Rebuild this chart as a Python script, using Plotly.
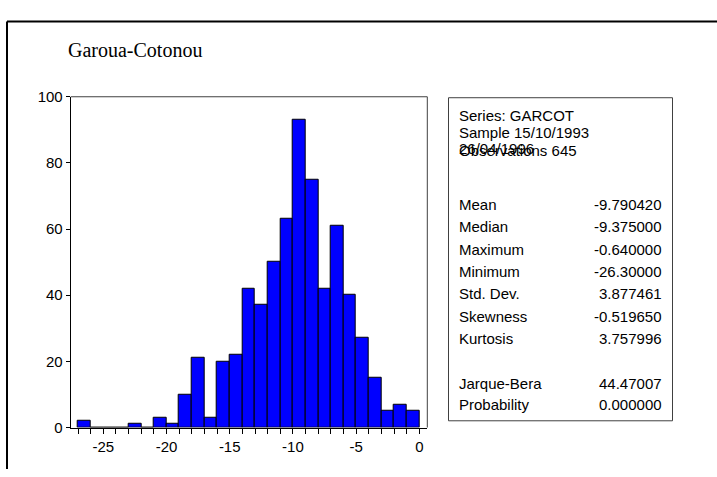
import plotly.graph_objects as go

# Histogram data: bin lower edges (width 1) and counts
bin_starts = [-27, -26, -25, -24, -23, -22, -21, -20, -19, -18, -17, -16, -15, -14,
              -13, -12, -11, -10, -9, -8, -7, -6, -5, -4, -3, -2, -1]
counts = [2, 0, 0, 0, 1, 0, 3, 1, 10, 21, 3, 20, 22, 42,
          37, 50, 63, 93, 75, 42, 61, 40, 27, 15, 5, 7, 5]
bin_width = 1

x_tick_vals = [-25, -20, -15, -10, -5, 0]
y_tick_vals = [0, 20, 40, 60, 80, 100]

title_text = "Garoua-Cotonou"
header_lines = ["Series: GARCOT", "Sample 15/10/1993", "26/04/1996", "Observations 645"]
stat_labels = ["Mean", "Median", "Maximum", "Minimum", "Std. Dev.", "Skewness", "Kurtosis",
               "Jarque-Bera", "Probability"]
stat_values = ["-9.790420", "-9.375000", "-0.640000", "-26.30000", "3.877461", "-0.519650",
               "3.757996", "44.47007", "0.000000"]

W, H = 717, 477


def px(x):
    return x / W


def py(y):
    return 1 - y / H


centers = [b + bin_width / 2 for b in bin_starts]

fig = go.Figure()
fig.add_trace(go.Bar(
    x=centers, y=counts, width=[bin_width] * len(counts),
    marker=dict(color="#0000FF", line=dict(color="#000000", width=1)),
    hoverinfo="x+y",
))

all_ticks = list(range(-27, 1))

fig.update_layout(
    width=W, height=H,
    margin=dict(l=0, r=0, t=0, b=0),
    paper_bgcolor="white", plot_bgcolor="white",
    showlegend=False,
    bargap=0,
    font=dict(family="Liberation Sans, Arial, sans-serif", size=15, color="#000000"),
    xaxis=dict(
        domain=[px(70.7), px(427.3)],
        range=[-27.58, 0.63],
        tickmode="array",
        tickvals=all_ticks,
        ticktext=[str(v) if v in x_tick_vals else "" for v in all_ticks],
        ticks="outside", ticklen=5, tickwidth=1, tickcolor="#000000",
        showline=True, linecolor="#000000", linewidth=1,
        showgrid=False, zeroline=False,
        tickfont=dict(size=15),
        anchor="y",
    ),
    yaxis=dict(
        domain=[py(434), py(91)],
        range=[0, 100],
        tickmode="array", tickvals=y_tick_vals,
        ticks="outside", ticklen=4, tickwidth=1, tickcolor="#000000",
        showline=True, linecolor="#000000", linewidth=1,
        showgrid=False, zeroline=False,
        tickfont=dict(size=15),
        ticklabelstandoff=0,
        anchor="x",
    ),
)

shapes = []
# outer frame (top and left)
shapes.append(dict(type="line", xref="paper", yref="paper", x0=px(7), x1=1.0, y0=py(13), y1=py(13),
                   line=dict(color="#000000", width=2)))
shapes.append(dict(type="line", xref="paper", yref="paper", x0=px(7), x1=px(7), y0=py(13), y1=0,
                   line=dict(color="#000000", width=2)))
# plot box top and right
shapes.append(dict(type="line", xref="paper", yref="paper", x0=px(70.7), x1=px(427.3), y0=py(91), y1=py(91),
                   line=dict(color="#404040", width=1)))
shapes.append(dict(type="line", xref="paper", yref="paper", x0=px(427.3), x1=px(427.3), y0=py(91), y1=py(434),
                   line=dict(color="#404040", width=1)))
# stats box
shapes.append(dict(type="rect", xref="paper", yref="paper", x0=px(448.5), x1=px(672.5), y0=py(427), y1=py(92),
                   line=dict(color="#404040", width=1), fillcolor="rgba(0,0,0,0)"))
fig.update_layout(shapes=shapes)

annotations = []
annotations.append(dict(text=title_text, xref="paper", yref="paper", x=px(66), y=py(43),
                        xanchor="left", yanchor="middle", showarrow=False,
                        font=dict(family="Liberation Serif, Times New Roman, serif", size=20, color="#000000")))

header_y = [110.5, 128.5, 144.5, 147]
for t, yy in zip(header_lines, header_y):
    annotations.append(dict(text=t, xref="paper", yref="paper", x=px(456.5), y=py(yy),
                            xanchor="left", yanchor="middle", showarrow=False,
                            font=dict(size=15, color="#000000")))

stat_y = [202.5, 225.5, 249, 272, 295.5, 318.5, 341.5, 388, 410.5]
for lab, val, yy in zip(stat_labels, stat_values, stat_y):
    annotations.append(dict(text=lab, xref="paper", yref="paper", x=px(456.5), y=py(yy),
                            xanchor="left", yanchor="middle", showarrow=False,
                            font=dict(size=15, color="#000000")))
    annotations.append(dict(text=val, xref="paper", yref="paper", x=px(663.5), y=py(yy),
                            xanchor="right", yanchor="middle", showarrow=False,
                            font=dict(size=15, color="#000000")))
fig.update_layout(annotations=annotations)

fig.write_html("out.html")
